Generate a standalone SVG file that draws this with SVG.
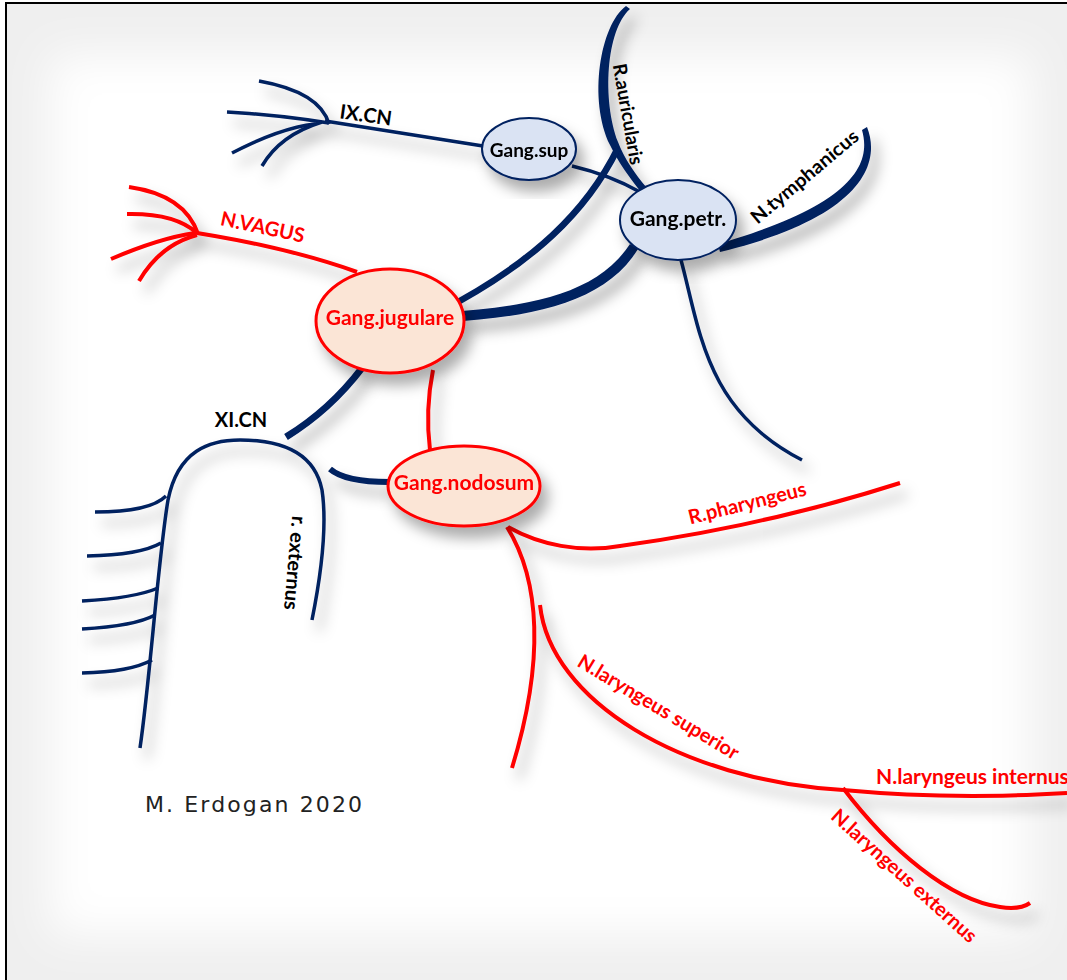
<svg xmlns="http://www.w3.org/2000/svg" width="1067" height="980" viewBox="0 0 1067 980">
<defs>
<filter id="bgblur" x="-10%" y="-10%" width="120%" height="120%"><feGaussianBlur stdDeviation="22"/></filter>
<filter id="shadow" x="-20%" y="-20%" width="150%" height="150%">
<feDropShadow dx="7" dy="11" stdDeviation="7" flood-color="#000" flood-opacity="0.32"/>
</filter>
<style>
.nv{fill:none;stroke:#002060;stroke-width:3.5;stroke-linecap:butt}
.nvf{fill:#002060;stroke:none}
.rd{fill:none;stroke:#ff0000;stroke-width:4}
.lb{font-family:Lato,"Open Sans",sans-serif;font-weight:bold;font-size:20px;fill:#000;dominant-baseline:central}
.lr{font-family:Lato,"Open Sans",sans-serif;font-weight:bold;font-size:20px;fill:#ff0000;dominant-baseline:central}
.gb{fill:#dae3f3;stroke:#002060;stroke-width:2}
.gr{fill:#fbe5d6;stroke:#ff0000;stroke-width:3}
</style>
</defs>
<rect x="0" y="0" width="1067" height="980" fill="#ffffff"/>
<rect x="6" y="3" width="1061" height="977" fill="#efefef"/>
<rect x="50" y="55" width="980" height="880" fill="#ffffff" filter="url(#bgblur)"/>
<path d="M6 980 V3 H1067" fill="none" stroke="#000" stroke-width="2"/>

<g id="connectors" filter="url(#shadow)">
<!-- IX.CN -->
<path class="nv" d="M325 121 Q400 133 483 146"/>
<path class="nv" d="M259 81 Q320 92 329 124"/>
<path class="nv" d="M227 112 Q280 115 329 123"/>
<path class="nv" d="M232 153 Q280 128 315 124"/>
<path class="nv" d="M262 166 Q280 135 322 122"/>
<!-- sup to petr -->
<path class="nv" d="M572 166 Q610 175 640 192"/>
<!-- R.auricularis -->
<path class="nvf" d="M626 6 C600 25 588 100 610 145 C618 162 630 178 641 192 L647 188 C635 174 624 158 618 142 C602 100 606 30 630 9 Z"/>
<!-- N.tymphanicus -->
<path class="nvf" d="M862 130 C872 165 852 205 718 244 L720 252 C860 218 882 165 867 127 Z"/>
<!-- jugulare to upper -->
<path class="nv" style="stroke-width:6.5" d="M458 302 C530 262 585 215 618 148"/>
<!-- jugulare to petr -->
<path class="nvf" d="M462 311 C540 305 600 290 630 244 L638 249 C608 298 545 315 463 321 Z"/>
<!-- petr down -->
<path class="nv" d="M681 260 C700 330 705 410 802 460"/>
<!-- jugulare to XI -->
<path class="nv" style="stroke-width:7" d="M362 368 Q330 410 286 437"/>
<!-- XI arch -->
<path class="nv" d="M140 748 C150 680 158 560 168 500 C178 450 210 440 240 440 C285 440 315 455 322 490 C328 530 320 580 312 620"/>
<path class="nv" d="M95 512 Q150 512 166 496"/>
<path class="nv" d="M87 556 Q140 555 161 543"/>
<path class="nv" d="M82 601 Q135 598 158 588"/>
<path class="nv" d="M82 629 Q135 626 155 615"/>
<path class="nv" d="M82 673 Q130 672 152 660"/>
<!-- XI to nodosum -->
<path class="nv" style="stroke-width:6" d="M330 469 Q345 482 389 482"/>
<!-- N.VAGUS -->
<path class="rd" d="M197 233 Q290 248 357 272"/>
<path class="rd" d="M129 187 Q185 195 198 234"/>
<path class="rd" d="M127 214 Q175 213 197 233"/>
<path class="rd" d="M111 259 Q160 238 195 233"/>
<path class="rd" d="M139 281 Q160 245 197 235"/>
<!-- jugulare to nodosum -->
<path class="rd" d="M433 370 Q425 410 430 450"/>
<!-- R.pharyngeus -->
<path class="rd" d="M508 527 C540 545 580 553 620 546 C700 535 800 515 900 483"/>
<!-- nodosum down -->
<path class="rd" d="M507 527 C540 580 545 660 512 768"/>
<!-- laryngeus superior -->
<path class="rd" d="M540 605 C550 700 680 780 843 790"/>
<path class="rd" d="M843 790 Q950 800 1067 793"/>
<path class="rd" d="M843 788 C890 850 950 900 1000 907 Q1020 910 1030 903"/>
</g>

<g id="gang-sup" filter="url(#shadow)">
<ellipse class="gb" cx="529" cy="149" rx="47" ry="31"/>
<text class="lb" x="529" y="149" text-anchor="middle" style="font-size:19px">Gang.sup</text>
</g>
<g id="gang-petr" filter="url(#shadow)">
<ellipse class="gb" cx="678" cy="220" rx="58" ry="40"/>
<text class="lb" x="678" y="217" text-anchor="middle" style="font-size:21px">Gang.petr.</text>
</g>
<g id="gang-jugulare" filter="url(#shadow)">
<ellipse class="gr" cx="390" cy="321" rx="74" ry="52"/>
<text class="lr" x="390" y="316" text-anchor="middle" style="font-size:21px">Gang.jugulare</text>
</g>
<g id="gang-nodosum" filter="url(#shadow)">
<ellipse class="gr" cx="464" cy="486" rx="76" ry="40"/>
<text class="lr" x="464" y="481" text-anchor="middle" style="font-size:21px">Gang.nodosum</text>
</g>

<g id="labels">
<text class="lb" transform="translate(366,114) rotate(8)" text-anchor="middle">IX.CN</text>
<text class="lb" transform="translate(629,114) rotate(80)" text-anchor="middle" textLength="102" lengthAdjust="spacingAndGlyphs" style="font-size:19px">R.auricularis</text>
<text class="lb" transform="translate(804,176) rotate(-40)" text-anchor="middle" textLength="134" lengthAdjust="spacingAndGlyphs" style="font-size:19px">N.tymphanicus</text>
<text class="lr" transform="translate(263,226) rotate(12)" text-anchor="middle">N.VAGUS</text>
<text class="lb" x="241" y="419" text-anchor="middle">XI.CN</text>
<text class="lb" transform="translate(296,563) rotate(95)" text-anchor="middle">r. externus</text>
<text class="lr" transform="translate(747,502) rotate(-14)" text-anchor="middle">R.pharyngeus</text>
<text class="lr" transform="translate(659,706) rotate(31)" text-anchor="middle">N.laryngeus superior</text>
<text class="lr" x="876" y="775" style="font-size:21px">N.laryngeus internus</text>
<text class="lr" transform="translate(905,875) rotate(42)" text-anchor="middle">N.laryngeus externus</text>
<text x="145" y="812" textLength="217" lengthAdjust="spacing" style="font-family:'DejaVu Sans',sans-serif;font-size:22px;fill:#222">M. Erdogan 2020</text>
</g>
</svg>
